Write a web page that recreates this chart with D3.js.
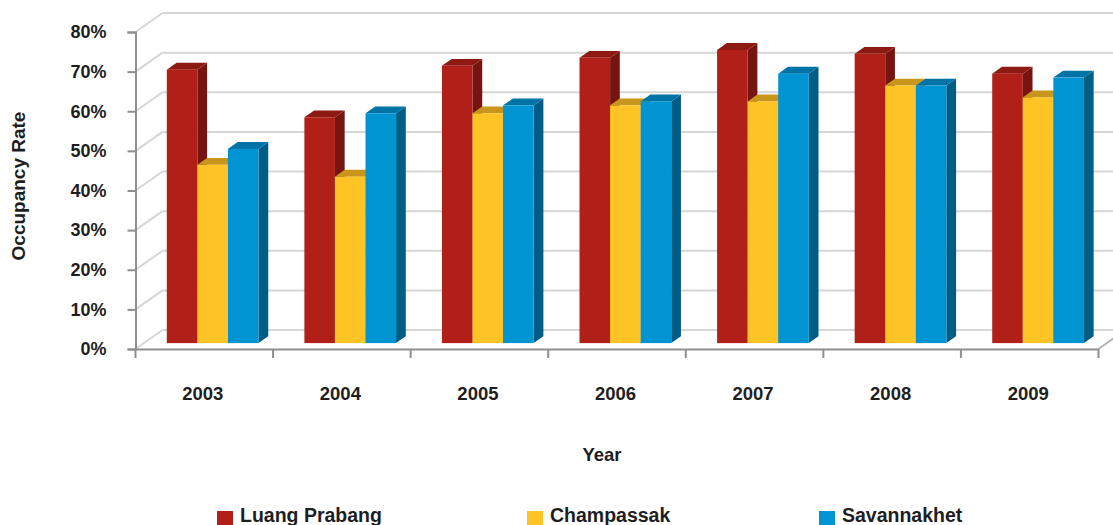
<!DOCTYPE html>
<html>
<head>
<meta charset="utf-8">
<script src="https://cdn.jsdelivr.net/npm/d3@7"></script>
<style>
  html, body { margin: 0; padding: 0; background: #ffffff; }
  svg { display: block; }
  text { font-family: "Liberation Sans", Arial, sans-serif; font-weight: bold; fill: #1e1e1e; }
</style>
</head>
<body>
<svg id="chart" width="1113" height="525"></svg>
<script>
// ---- data ----
const years = ["2003", "2004", "2005", "2006", "2007", "2008", "2009"];
const seriesNames = ["Luang Prabang", "Champassak", "Savannakhet"];
const luangPrabang = [69, 57, 70, 72, 74, 73, 68];
const champassak = [45, 42, 58, 60, 61, 65, 62];
const savannakhet = [49, 58, 60, 61, 68, 65, 67];
const yTicks = [0, 10, 20, 30, 40, 50, 60, 70, 80];
const yTitle = "Occupancy Rate";
const xTitle = "Year";

const seriesValues = [luangPrabang, champassak, savannakhet];
const colors = [
  { front: "#b12018", top: "#8c1a12", side: "#761510" },
  { front: "#fec426", top: "#c9961d", side: "#b8871a" },
  { front: "#0094d2", top: "#0073a6", side: "#005e86" }
];

// ---- layout ----
const svg = d3.select("#chart");
const left = 135.5, right = 1098.5, bottom = 349, topY = 32;
const wallDx = 27, wallDy = -19;          // depth of the back wall
const barF = 0.31;                         // bar front plane depth fraction
const barDepth = 0.36;                     // bar depth fraction
const bfx = wallDx * barF, bfy = wallDy * barF;
const bdx = wallDx * barDepth, bdy = wallDy * barDepth;

const y = d3.scaleLinear().domain([0, 80]).range([bottom, topY]);
const x0 = d3.scaleBand().domain(years).range([left, right]).paddingInner(0).paddingOuter(0);
const x1 = d3.scaleBand().domain(seriesNames).range([0, x0.bandwidth()]).paddingInner(0).paddingOuter(0.75);

// ---- walls / gridlines ----
const grid = svg.append("g");
yTicks.forEach(t => {
  const yf = y(t), yb = y(t) + wallDy;
  grid.append("line")
    .attr("x1", left).attr("y1", yf).attr("x2", left + wallDx).attr("y2", yb)
    .attr("stroke", "#d6d6d6").attr("stroke-width", 2);
  grid.append("line")
    .attr("x1", left + wallDx).attr("y1", yb).attr("x2", right + wallDx + 10).attr("y2", yb)
    .attr("stroke", "#d6d6d6").attr("stroke-width", 2);
});
// floor right edge
grid.append("line")
  .attr("x1", right).attr("y1", y(0)).attr("x2", right + wallDx).attr("y2", y(0) + wallDy)
  .attr("stroke", "#b5b5b5").attr("stroke-width", 2);

// ---- bars ----
const barsG = svg.append("g");
years.forEach((yr, i) => {
  seriesNames.forEach((s, j) => {
    const v = seriesValues[j][i];
    const c = colors[j];
    const bx = x0(yr) + x1(s) + bfx;
    const w = x1.bandwidth();
    const yt = y(v) + bfy;
    const yb = y(0) + bfy;
    const g = barsG.append("g");
    g.append("path")
      .attr("d", `M${bx + w},${yt} L${bx + w + bdx},${yt + bdy} L${bx + w + bdx},${yb + bdy} L${bx + w},${yb} Z`)
      .attr("fill", c.side);
    g.append("path")
      .attr("d", `M${bx},${yt} L${bx + bdx},${yt + bdy} L${bx + w + bdx},${yt + bdy} L${bx + w},${yt} Z`)
      .attr("fill", c.top);
    g.append("rect")
      .attr("x", bx).attr("y", yt).attr("width", w).attr("height", yb - yt)
      .attr("fill", c.front);
  });
});

// ---- axes ----
const yAxis = svg.append("g")
  .attr("transform", `translate(${left},0)`)
  .call(d3.axisLeft(y).tickValues(yTicks).tickSize(8).tickPadding(21).tickFormat(d => d + "%"));
yAxis.select(".domain").attr("stroke", "#8f8f8f").attr("stroke-width", 2);
yAxis.selectAll(".tick line").attr("stroke", "#8f8f8f").attr("stroke-width", 2);
yAxis.selectAll(".tick text")
  .style("font-family", "'Liberation Sans', Arial, sans-serif")
  .style("font-weight", "bold").style("font-size", "18px").attr("fill", "#1e1e1e");

const xAxis = svg.append("g")
  .attr("transform", `translate(0,${bottom})`)
  .call(d3.axisBottom(x0).tickSize(0).tickPadding(38));
xAxis.select(".domain").attr("stroke", "#8f8f8f").attr("stroke-width", 2);
xAxis.selectAll(".tick text")
  .attr("dx", -1.5)
  .style("font-family", "'Liberation Sans', Arial, sans-serif")
  .style("font-weight", "bold").style("font-size", "18.5px").attr("fill", "#1e1e1e");
const bounds = years.map(yr => x0(yr)).concat([x0(years[years.length - 1]) + x0.bandwidth()]);
svg.append("g").selectAll("line").data(bounds).join("line")
  .attr("x1", d => d).attr("x2", d => d)
  .attr("y1", bottom).attr("y2", bottom + 9)
  .attr("stroke", "#8f8f8f").attr("stroke-width", 2);

// ---- titles ----
svg.append("text")
  .attr("transform", "translate(25,186) rotate(-90)")
  .attr("text-anchor", "middle")
  .style("font-size", "19px")
  .text(yTitle);
svg.append("text")
  .attr("x", 602).attr("y", 461)
  .attr("text-anchor", "middle")
  .style("font-size", "18.5px")
  .text(xTitle);

// ---- legend ----
const legendX = [217, 527, 819];
const legend = svg.append("g");
seriesNames.forEach((s, j) => {
  legend.append("rect")
    .attr("x", legendX[j]).attr("y", 511).attr("width", 16).attr("height", 16)
    .attr("fill", colors[j].front);
  legend.append("text")
    .attr("x", legendX[j] + 23).attr("y", 522)
    .style("font-size", "19.5px")
    .text(s);
});
</script>
</body>
</html>
